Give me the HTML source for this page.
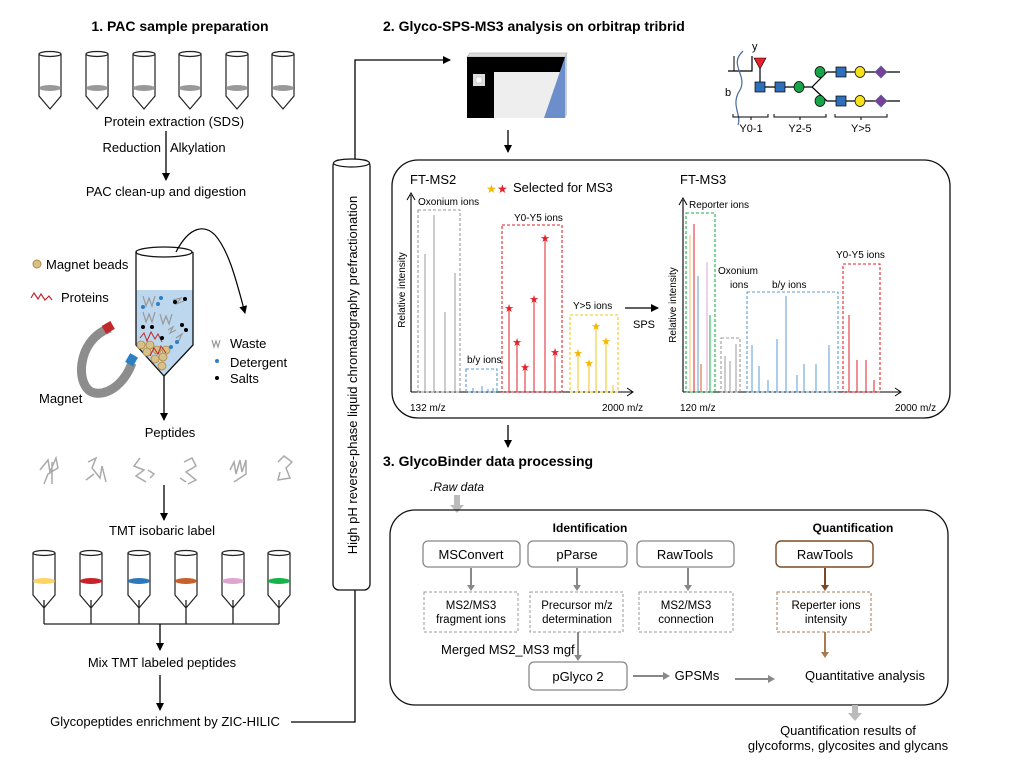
<!DOCTYPE html>
<html><head><meta charset="utf-8"><style>
body{margin:0;background:#fff}
svg{display:block;font-family:"Liberation Sans",Arial,sans-serif}
</style></head><body>
<svg width="1018" height="761" viewBox="0 0 1018 761" xmlns="http://www.w3.org/2000/svg">
<defs>
<marker id="ah" markerWidth="8" markerHeight="8" refX="7" refY="4" orient="auto" markerUnits="userSpaceOnUse"><path d="M0,0 L8,4 L0,8 z" fill="#000"/></marker>
<g id="tube"><ellipse cx="0" cy="0" rx="11" ry="2.5" fill="#fff" stroke="#222" stroke-width="1.2"/><path d="M-11,0 V42 L0,55 L11,42 V0" fill="none" stroke="#222" stroke-width="1.2"/></g>
</defs>
<g font-size="13" fill="#000">
<text x="180" y="31" text-anchor="middle" font-weight="bold" font-size="14">1. PAC sample preparation</text>
<text x="383" y="31" font-weight="bold" font-size="14">2. Glyco-SPS-MS3 analysis on orbitrap tribrid</text>
<text x="383" y="466" font-weight="bold" font-size="14">3. GlycoBinder data processing</text>
</g>
<g>
<g transform="translate(50,54)"><use href="#tube"/><ellipse cy="34" rx="11" ry="3" fill="#999"/></g>
<g transform="translate(97,54)"><use href="#tube"/><ellipse cy="34" rx="11" ry="3" fill="#999"/></g>
<g transform="translate(144,54)"><use href="#tube"/><ellipse cy="34" rx="11" ry="3" fill="#999"/></g>
<g transform="translate(190,54)"><use href="#tube"/><ellipse cy="34" rx="11" ry="3" fill="#999"/></g>
<g transform="translate(237,54)"><use href="#tube"/><ellipse cy="34" rx="11" ry="3" fill="#999"/></g>
<g transform="translate(283,54)"><use href="#tube"/><ellipse cy="34" rx="11" ry="3" fill="#999"/></g>
</g>
<g font-size="13">
<text x="174" y="126" text-anchor="middle">Protein extraction (SDS)</text>
<text x="161" y="152" text-anchor="end">Reduction</text>
<text x="170" y="152">Alkylation</text>
<text x="166" y="196" text-anchor="middle">PAC clean-up and digestion</text>
</g>
<line x1="166" y1="131" x2="166" y2="180" stroke="#000" stroke-width="1.3" marker-end="url(#ah)"/>
<path d="M136,290 H193 V345 L164,376 L136,345 z" fill="#bcd7ee"/>
<ellipse cx="164" cy="252" rx="28" ry="5" fill="#fff" stroke="#111" stroke-width="1.3"/>
<path d="M136,252 V345 L164,376 L193,345 V252" fill="none" stroke="#111" stroke-width="1.3"/>
<g fill="#d8c08a" stroke="#b08a40" stroke-width="0.8">
<circle cx="141" cy="345" r="4"/><circle cx="147" cy="352" r="4"/><circle cx="150" cy="345" r="4"/><circle cx="157" cy="350" r="4"/><circle cx="155" cy="359" r="4"/><circle cx="163" cy="357" r="4"/><circle cx="162" cy="366" r="4"/><circle cx="166" cy="350" r="4"/>
</g>
<path d="M140,338 l4,-5 3,8 4,-9 4,7 3,-5 4,8 M150,356 l4,-8 4,6 3,-8 5,7" stroke="#c0282c" stroke-width="1" fill="none"/>
<g stroke="#999" stroke-width="1.2" fill="none"><path d="M143,296 l3,10 3,-8 3,8 3,-10 M143,312 l3,10 3,-8 3,8 3,-10 M160,314 l3,10 3,-8 3,8 3,-10 M173,300 l8,-2 -5,6 8,-3 M168,330 l5,-3 -3,6 6,-3 M176,338 l6,-4 -4,8"/></g>
<g fill="#2d7fc4"><circle cx="161" cy="298" r="2"/><circle cx="143" cy="307" r="2"/><circle cx="158" cy="304" r="2"/><circle cx="177" cy="342" r="2"/><circle cx="171" cy="347" r="2"/></g>
<g fill="#000"><circle cx="175" cy="302" r="2"/><circle cx="185" cy="299" r="2"/><circle cx="143" cy="327" r="2"/><circle cx="152" cy="327" r="2"/><circle cx="182" cy="325" r="2"/><circle cx="186" cy="330" r="2"/><circle cx="162" cy="338" r="2"/></g>
<path d="M176,252 C190,225 205,225 215,235 C228,250 235,275 245,313" fill="none" stroke="#000" stroke-width="1.2" marker-end="url(#ah)"/>
<circle cx="37" cy="264" r="4" fill="#d8c08a" stroke="#b08a40"/>
<text x="46" y="269" font-size="13">Magnet beads</text>
<path d="M31,298 l3,-5 4,6 3,-5 4,6 4,-4 3,4" stroke="#c0282c" fill="none" stroke-width="1.2"/>
<text x="61" y="302" font-size="13">Proteins</text>
<path d="M110,328 C75,340 75,390 95,393 C110,395 125,382 132,363" fill="none" stroke="#8d8d8d" stroke-width="9"/>
<rect x="103" y="323" width="10" height="9" fill="#c0282c" transform="rotate(-30 108 327)"/>
<rect x="127" y="355" width="10" height="9" fill="#2d7fc4" transform="rotate(-60 132 360)"/>
<text x="39" y="403" font-size="13">Magnet</text>
<path d="M212,340 l2,7 2,-6 2,6 2,-7" stroke="#999" fill="none" stroke-width="1.2"/>
<text x="230" y="348" font-size="13">Waste</text>
<circle cx="217" cy="361" r="2" fill="#2d7fc4"/><text x="230" y="367" font-size="13">Detergent</text>
<circle cx="217" cy="378" r="2" fill="#000"/><text x="230" y="383" font-size="13">Salts</text>
<line x1="164" y1="376" x2="164" y2="420" stroke="#000" stroke-width="1.3" marker-end="url(#ah)"/>
<text x="170" y="437" font-size="13" text-anchor="middle">Peptides</text>
<g stroke="#aaa" stroke-width="1.5" fill="none">
<path d="M40,470 l8,-10 2,12 6,-14 2,10 -10,6 -4,10 M52,462 l0,22"/>
<path d="M88,462 l8,-4 -4,10 8,10 2,-12 4,16 M86,480 l8,-6"/>
<path d="M140,458 l-6,8 10,4 -8,6 10,6 M148,470 l6,4 -4,4"/>
<path d="M184,462 l8,-4 4,8 -10,6 10,8 -8,4 M180,478 l6,4"/>
<path d="M230,470 l4,-8 2,12 4,-14 2,12 4,-12 0,14 -12,8"/>
<path d="M278,462 l6,-6 8,6 -6,6 4,10 -12,2 2,-8"/>
</g>
<line x1="164" y1="485" x2="164" y2="520" stroke="#000" stroke-width="1.3" marker-end="url(#ah)"/>
<text x="162" y="535" font-size="13" text-anchor="middle">TMT isobaric label</text>
<g>
<g transform="translate(44,553)"><use href="#tube"/><ellipse cy="28" rx="11" ry="3" fill="#fdd463"/></g>
<g transform="translate(91,553)"><use href="#tube"/><ellipse cy="28" rx="11" ry="3" fill="#c5222a"/></g>
<g transform="translate(139,553)"><use href="#tube"/><ellipse cy="28" rx="11" ry="3" fill="#2f77bb"/></g>
<g transform="translate(186,553)"><use href="#tube"/><ellipse cy="28" rx="11" ry="3" fill="#c8602a"/></g>
<g transform="translate(233,553)"><use href="#tube"/><ellipse cy="28" rx="11" ry="3" fill="#dca6cf"/></g>
<g transform="translate(279,553)"><use href="#tube"/><ellipse cy="28" rx="11" ry="3" fill="#17b24a"/></g>
</g>
<path d="M44,600 V624 M91,600 V624 M139,600 V624 M186,600 V624 M233,600 V624 M279,600 V624 M44,624 H279" stroke="#222" stroke-width="1.3" fill="none"/>
<line x1="160" y1="624" x2="160" y2="650" stroke="#000" stroke-width="1.3" marker-end="url(#ah)"/>
<text x="162" y="667" font-size="13" text-anchor="middle">Mix TMT labeled peptides</text>
<line x1="160" y1="675" x2="160" y2="710" stroke="#000" stroke-width="1.3" marker-end="url(#ah)"/>
<text x="165" y="726" font-size="13" text-anchor="middle">Glycopeptides enrichment by ZIC-HILIC</text>
<path d="M291,722 H355 V60 H450" fill="none" stroke="#000" stroke-width="1.3" marker-end="url(#ah)"/>
<rect x="333" y="160" width="37" height="430" rx="6" fill="#fff" stroke="#111" stroke-width="1.3"/>
<ellipse cx="351.5" cy="163" rx="18" ry="4" fill="#fff" stroke="#111" stroke-width="1.2"/>
<text transform="translate(357,375) rotate(-90)" font-size="13" text-anchor="middle">High pH reverse-phase liquid chromatography prefractionation</text>
<path d="M467,57 L470,53 L567,53 L565,57 z" fill="#ddd" stroke="#999" stroke-width="0.6"/>
<path d="M565,57 L567,53 L567,115 L565,118 z" fill="#ccc"/>
<rect x="467" y="57" width="98" height="61" fill="#000"/>
<rect x="494" y="72" width="71" height="46" fill="#eee"/>
<path d="M565,57 L565,118 L544,118 z" fill="#6c8fcc"/>
<rect x="473" y="74" width="12" height="12" fill="#ddd"/><rect x="476" y="77" width="6" height="6" fill="#fff" stroke="#ccc"/>
<line x1="508" y1="130" x2="508" y2="152" stroke="#000" stroke-width="1.3" marker-end="url(#ah)"/>
<g stroke="#000" stroke-width="1.2" fill="none">
<path d="M758,87 H812 L827,72 H900 M812,87 L827,101 H900 M760,87 V60"/>
<path d="M728,71 H752 V56"/>
<path d="M743,51 C728,65 748,75 740,90 C730,105 742,115 738,125" stroke="#4a6a9a"/>
</g>
<path d="M734,71 V56" stroke="#000"/>
<path d="M754,58 L766,58 L760,69 z" fill="#e3222a" stroke="#000" stroke-width="0.6"/>
<g fill="#2f6fba" stroke="#000" stroke-width="0.7"><rect x="755" y="82" width="10" height="10"/><rect x="775" y="82" width="10" height="10"/><rect x="836" y="67" width="10" height="10"/><rect x="836" y="96" width="10" height="10"/></g>
<g fill="#17a34a" stroke="#000" stroke-width="0.7"><ellipse cx="799" cy="87" rx="5" ry="5.5"/><ellipse cx="820" cy="72" rx="5" ry="5.5"/><ellipse cx="820" cy="101" rx="5" ry="5.5"/></g>
<g fill="#f7e21a" stroke="#000" stroke-width="0.7"><ellipse cx="860" cy="72" rx="5" ry="5.5"/><ellipse cx="860" cy="101" rx="5" ry="5.5"/></g>
<g fill="#7a3f96" stroke="#4a6a9a" stroke-width="0.7"><path d="M875,72 l6,-6 6,6 -6,6z"/><path d="M875,101 l6,-6 6,6 -6,6z"/></g>
<text x="752" y="50" font-size="11">y</text>
<text x="725" y="96" font-size="11">b</text>
<path d="M733,114 v3 h35 v-3 M751,117 v3 M774,114 v3 h52 v-3 M800,117 v3 M835,114 v3 h52 v-3 M861,117 v3" stroke="#000" fill="none"/>
<g font-size="11" text-anchor="middle"><text x="751" y="132">Y0-1</text><text x="800" y="132">Y2-5</text><text x="861" y="132">Y&gt;5</text></g>
<rect x="392" y="160" width="558" height="258" rx="26" fill="none" stroke="#111" stroke-width="1.3"/>
<g font-size="13"><text x="410" y="184">FT-MS2</text><text x="680" y="184">FT-MS3</text><text x="513" y="192">Selected for MS3</text></g>
<text x="486" y="193" font-size="12" fill="#f5b800">★</text><text x="497" y="193" font-size="12" fill="#e3222a">★</text>
<path d="M411,392 V195 M411,392 H632" stroke="#000" stroke-width="1.1" fill="none"/>
<path d="M407,200 L411,193 L415,200 M627,388 L633,392 L627,396" stroke="#000" fill="none"/>
<text transform="translate(405,290) rotate(-90)" font-size="10" text-anchor="middle">Relative intensity</text>
<g font-size="10"><text x="418" y="205">Oxonium ions</text><text x="467" y="363">b/y ions</text><text x="514" y="221">Y0-Y5 ions</text><text x="573" y="309">Y&gt;5 ions</text><text x="410" y="411">132 m/z</text><text x="602" y="411">2000 m/z</text></g>
<g fill="none" stroke-dasharray="3,2" stroke-width="1.1">
<rect x="418" y="210" width="42" height="182" stroke="#999"/>
<rect x="466" y="369" width="31" height="23" stroke="#5b9bd5"/>
<rect x="502" y="225" width="60" height="167" stroke="#e3222a"/>
<rect x="570" y="315" width="48" height="77" stroke="#f5c518"/>
</g>
<g stroke="#999" stroke-width="1"><path d="M425,392V254 M434,392V215 M445,392V312 M455,392V273"/></g>
<g stroke="#5b9bd5"><path d="M473,392v-4 M482,392v-6 M488,392v-3 M493,392v-4"/></g>
<g stroke="#e3222a"><path d="M509,392V307 M517,392V341 M525,392V366 M534,392V298 M545,392V237 M555,392V351"/></g>
<g fill="#e3222a" font-size="11" text-anchor="middle"><text x="509" y="312">★</text><text x="517" y="346">★</text><text x="525" y="371">★</text><text x="534" y="303">★</text><text x="545" y="242">★</text><text x="555" y="356">★</text></g>
<g stroke="#f5c518"><path d="M578,392V352 M589,392V362 M596,392V325 M606,392V340 M613,392V385"/></g>
<g fill="#f5b800" font-size="11" text-anchor="middle"><text x="578" y="357">★</text><text x="589" y="367">★</text><text x="596" y="330">★</text><text x="606" y="345">★</text></g>
<line x1="625" y1="308" x2="658" y2="308" stroke="#000" stroke-width="1.3" marker-end="url(#ah)"/>
<text x="633" y="328" font-size="11">SPS</text>
<path d="M683,392 V200 M683,392 H900" stroke="#000" stroke-width="1.1" fill="none"/>
<path d="M679,205 L683,198 L687,205 M895,388 L901,392 L895,396" stroke="#000" fill="none"/>
<text transform="translate(676,305) rotate(-90)" font-size="10" text-anchor="middle">Relative intensity</text>
<g font-size="10"><text x="689" y="208">Reporter ions</text><text x="718" y="274">Oxonium</text><text x="730" y="288">ions</text><text x="772" y="288">b/y ions</text><text x="836" y="258">Y0-Y5 ions</text><text x="680" y="411">120 m/z</text><text x="895" y="411">2000 m/z</text></g>
<g fill="none" stroke-dasharray="3,2" stroke-width="1.1">
<rect x="686" y="213" width="29" height="179" stroke="#17b24a"/>
<rect x="721" y="338" width="19" height="54" stroke="#999"/>
<rect x="747" y="292" width="91" height="100" stroke="#5b9bd5"/>
<rect x="843" y="264" width="37" height="128" stroke="#e3222a"/>
</g>
<path d="M690,392V235" stroke="#f5c06a"/><path d="M694,392V224" stroke="#e3222a"/><path d="M698,392V276" stroke="#5b9bd5"/><path d="M701,392V364" stroke="#c8602a"/><path d="M707,392V262" stroke="#dca6cf"/><path d="M710,392V315" stroke="#17b24a"/>
<g stroke="#999"><path d="M725,392V356 M730,392V361 M736,392V344"/></g>
<g stroke="#5b9bd5"><path d="M752,392V345 M759,392V366 M768,392V380 M777,392V339 M786,392V296 M797,392V375 M804,392V364 M816,392V364 M829,392V345"/></g>
<g stroke="#e3222a"><path d="M849,392V315 M857,392V360 M866,392V360 M874,392V380"/></g>
<line x1="508" y1="425" x2="508" y2="447" stroke="#000" stroke-width="1.3" marker-end="url(#ah)"/>
<text x="430" y="491" font-size="12" font-style="italic">.Raw data</text>
<path d="M457,495 V506" stroke="#bbb" stroke-width="6"/><path d="M450,505 L464,505 L457,513 z" fill="#bbb"/>
<rect x="390" y="510" width="558" height="195" rx="25" fill="none" stroke="#111" stroke-width="1.3"/>
<g font-size="12" font-weight="bold" text-anchor="middle"><text x="590" y="532">Identification</text><text x="853" y="532">Quantification</text></g>
<g fill="none" stroke="#888" stroke-width="1.3">
<rect x="423" y="541" width="97" height="26" rx="5"/><rect x="528" y="541" width="99" height="26" rx="5"/><rect x="637" y="541" width="97" height="26" rx="5"/>
<rect x="529" y="662" width="98" height="28" rx="5"/>
</g>
<rect x="776" y="541" width="97" height="26" rx="5" fill="none" stroke="#7a4a26" stroke-width="1.4"/>
<g fill="none" stroke="#999" stroke-dasharray="3,2"><rect x="424" y="592" width="94" height="40"/><rect x="530" y="592" width="93" height="40"/><rect x="639" y="592" width="94" height="40"/></g>
<rect x="777" y="592" width="94" height="40" fill="none" stroke="#a87a50" stroke-dasharray="3,2"/>
<g font-size="13" text-anchor="middle"><text x="471" y="559">MSConvert</text><text x="577" y="559">pParse</text><text x="685" y="559">RawTools</text><text x="825" y="559">RawTools</text><text x="578" y="681">pGlyco 2</text></g>
<g font-size="11.5" text-anchor="middle"><text x="471" y="609">MS2/MS3</text><text x="471" y="623">fragment ions</text><text x="577" y="609">Precursor m/z</text><text x="577" y="623">determination</text><text x="686" y="609">MS2/MS3</text><text x="686" y="623">connection</text><text x="826" y="609">Reperter ions</text><text x="826" y="623">intensity</text></g>
<g stroke="#888" stroke-width="2" fill="none"><path d="M471,568V587 M577,568V587 M688,568V587 M578,632V657 M633,676H665 M735,679H770"/></g>
<g fill="#888"><path d="M467,585h8l-4,6z M573,585h8l-4,6z M684,585h8l-4,6z M574,655h8l-4,6z M663,672v8l7,-4z M768,675v8l7,-4z"/></g>
<path d="M825,568V587" stroke="#7a4a26" stroke-width="2"/><path d="M821,585h8l-4,6z" fill="#7a4a26"/>
<path d="M825,632V654" stroke="#a87a50" stroke-width="2"/><path d="M821,652h8l-4,6z" fill="#a87a50"/>
<g font-size="13"><text x="441" y="654">Merged MS2_MS3 mgf</text><text x="697" y="680" text-anchor="middle">GPSMs</text><text x="805" y="680">Quantitative analysis</text></g>
<path d="M855,705 V714" stroke="#bbb" stroke-width="6"/><path d="M848,713 L862,713 L855,721 z" fill="#bbb"/>
<g font-size="13" text-anchor="middle"><text x="848" y="735">Quantification results of</text><text x="848" y="750">glycoforms, glycosites and glycans</text></g>
</svg>
</body></html>
